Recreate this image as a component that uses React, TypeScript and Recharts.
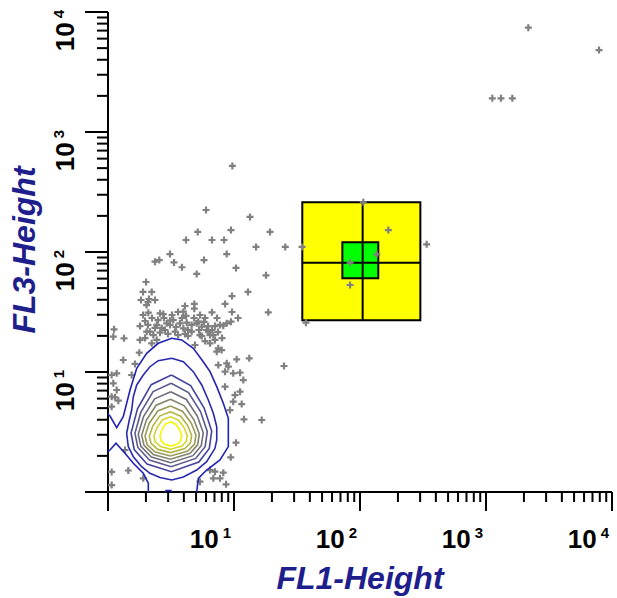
import { ScatterChart, Scatter, XAxis, YAxis, ReferenceArea, ReferenceLine } from 'recharts'

// all values are in decades (log10 of the channel value), axes run 10^0 .. 10^4
type Pt = [number, number]

const FONT = '"Liberation Sans", Arial, sans-serif'
const AXIS_BLUE = '#1e1e8c'

// FL1-Height / FL3-Height events
const events: Pt[] = [
  [0.987, 2.717], [0.778, 2.35], [1.127, 2.292], [0.712, 2.167], [0.976, 2.183], [1.286, 2.167],
  [0.619, 2.1], [0.825, 2.1], [0.921, 2.1], [1.175, 2.042], [1.407, 2.042], [1.54, 2.042],
  [0.492, 1.983], [0.942, 1.983], [0.373, 1.919], [0.407, 1.933], [0.524, 1.913], [0.762, 1.933],
  [0.587, 1.873], [1.016, 1.867], [0.704, 1.817], [1.254, 1.806], [0.302, 1.75], [0.347, 1.667],
  [1.111, 1.667], [0.984, 1.633], [0.317, 1.583], [0.306, 1.558], [0.325, 1.608], [0.685, 1.567],
  [0.611, 1.55], [0.929, 1.567], [0.32, 1.494], [0.413, 1.489], [0.439, 1.483], [0.598, 1.503],
  [0.685, 1.528], [0.825, 1.497], [1.272, 1.497], [0.492, 1.428], [0.976, 1.419], [0.915, 1.386],
  [0.048, 1.356], [0.127, 1.281], [1.571, 1.411], [0.333, 1.336], [0.36, 1.308], [0.452, 1.35],
  [0.571, 1.406], [0.625, 1.411], [0.717, 1.419], [0.744, 1.378], [0.783, 1.35], [0.81, 1.308],
  [0.598, 1.364], [0.413, 1.328], [0.744, 1.3], [0.387, 1.392], [0.426, 1.367], [0.518, 1.433],
  [0.664, 1.392], [0.704, 1.406], [0.796, 1.336], [0.836, 1.308], [0.889, 1.392], [0.942, 1.406],
  [0.307, 1.336], [0.387, 1.267], [0.347, 1.239], [0.532, 1.336], [0.664, 1.336], [0.73, 1.308],
  [0.849, 1.267], [0.875, 1.197], [0.81, 1.239], [0.902, 1.183], [0.863, 1.169], [1.021, 1.106],
  [1.121, 1.114], [0.942, 1.072], [0.875, 1.058], [0.955, 1.044], [0.929, 1.003], [0.994, 0.989],
  [1.048, 0.994], [1.074, 0.933], [1.397, 1.05], [0.929, 0.878], [1.008, 0.808], [0.994, 0.753],
  [1.061, 0.733], [0.968, 0.683], [1.079, 0.606], [1.22, 0.6], [1.016, 0.411], [0.974, 0.289],
  [0.81, 0.183], [0.849, 0.169], [0.915, 0.161], [0.836, 0.114], [0.889, 0.114], [0.937, 0.064],
  [0.73, 0.086], [0.121, 1.1], [0.214, 1.067], [0.248, 1.161], [0.188, 0.975], [0.042, 1.294],
  [0.029, 0.975], [0.069, 0.989], [0.042, 0.906], [0.069, 0.85], [0.029, 0.794], [0.056, 0.789],
  [0.082, 0.761], [0.029, 0.711], [0.029, 0.167], [0.161, 0.179], [0.28, 0.114], [0.029, 0.058],
  [0.135, 0.35], [1.048, 0.836], [3.336, 3.869], [3.897, 3.683], [3.05, 3.281], [3.119, 3.281],
  [3.209, 3.281], [2.026, 2.414], [2.225, 2.183], [2.529, 2.064], [2.133, 1.981], [1.921, 1.911],
  [1.921, 1.725], [0.466, 1.406], [0.556, 1.308], [0.635, 1.3], [0.294, 1.425], [0.254, 1.383],
  [0.349, 1.45], [0.397, 1.433], [0.444, 1.45], [0.492, 1.392], [0.54, 1.375], [0.587, 1.45],
  [0.635, 1.35], [0.683, 1.45], [0.722, 1.35], [0.762, 1.417], [0.794, 1.383], [0.825, 1.35],
  [0.317, 1.392], [0.373, 1.367], [0.278, 1.475], [0.508, 1.475], [0.556, 1.5], [0.73, 1.475],
  [0.77, 1.45], [0.849, 1.383], [0.873, 1.333], [0.905, 1.283], [0.619, 1.467], [0.69, 1.225],
  [0.77, 1.258], [0.294, 1.283], [0.254, 1.267], [0.984, 1.5], [1.032, 1.45], [0.865, 1.45],
  [0.476, 1.317], [0.611, 1.317], [0.278, 1.667], [0.262, 1.6], [0.373, 1.6],
]

// density contours, outermost first (the outer one runs off both axes)
const contour1: Pt[] = [
  [-0.079, 0.733], [0.016, 0.633], [0.069, 0.536], [0.121, 0.628], [0.175, 0.85], [0.228, 1.031],
  [0.307, 1.156], [0.399, 1.239], [0.506, 1.281], [0.585, 1.267], [0.677, 1.198], [0.756, 1.086],
  [0.81, 1.003], [0.863, 0.878], [0.915, 0.739], [0.955, 0.614], [0.955, 0.378], [0.889, 0.267],
  [0.783, 0.183], [0.717, 0.114], [0.704, 0], [0.704, -0.067], [0.32, -0.067], [0.32, 0.073],
  [0.28, 0.156], [0.201, 0.239], [0.135, 0.323], [0.063, 0.406], [0.016, 0.35], [-0.079, 0.267],
]
const contour2: Pt[] = [
  [0.506, 1.114], [0.598, 1.086], [0.677, 1.003], [0.744, 0.892], [0.796, 0.767], [0.836, 0.656],
  [0.863, 0.544], [0.863, 0.433], [0.849, 0.364], [0.783, 0.253], [0.704, 0.183], [0.598, 0.125],
  [0.506, 0.1], [0.413, 0.121], [0.333, 0.156], [0.267, 0.211], [0.201, 0.294], [0.161, 0.378],
  [0.148, 0.489], [0.169, 0.6], [0.188, 0.683], [0.201, 0.794], [0.228, 0.892], [0.28, 0.975],
  [0.333, 1.044], [0.399, 1.094], [0.506, 1.114],
]
const contour3: Pt[] = [
  [0.503, 0.975], [0.656, 0.887], [0.763, 0.699], [0.823, 0.508], [0.804, 0.363], [0.721, 0.25],
  [0.503, 0.169], [0.31, 0.233], [0.208, 0.354], [0.183, 0.492], [0.234, 0.693], [0.343, 0.894], [0.503, 0.975],
]
const contour4: Pt[] = [
  [0.501, 0.906], [0.639, 0.829], [0.735, 0.668], [0.788, 0.503], [0.771, 0.378], [0.696, 0.28],
  [0.501, 0.211], [0.329, 0.267], [0.237, 0.371], [0.214, 0.489], [0.26, 0.663], [0.358, 0.837], [0.501, 0.906],
]
const contour5: Pt[] = [
  [0.498, 0.836], [0.622, 0.771], [0.709, 0.633], [0.756, 0.493], [0.74, 0.386], [0.674, 0.303],
  [0.498, 0.244], [0.344, 0.292], [0.261, 0.38], [0.24, 0.481], [0.282, 0.628], [0.37, 0.777], [0.498, 0.836],
]
const contour6: Pt[] = [
  [0.496, 0.773], [0.606, 0.718], [0.682, 0.602], [0.725, 0.483], [0.711, 0.393], [0.652, 0.323],
  [0.496, 0.273], [0.359, 0.313], [0.286, 0.388], [0.267, 0.473], [0.304, 0.598], [0.382, 0.723], [0.496, 0.773],
]
const contour7: Pt[] = [
  [0.496, 0.717], [0.593, 0.671], [0.661, 0.574], [0.698, 0.475], [0.687, 0.4], [0.633, 0.342],
  [0.496, 0.3], [0.375, 0.333], [0.31, 0.396], [0.294, 0.467], [0.326, 0.571], [0.395, 0.675], [0.496, 0.717],
]
const contour8: Pt[] = [
  [0.496, 0.669], [0.577, 0.632], [0.633, 0.553], [0.664, 0.471], [0.654, 0.409], [0.61, 0.362],
  [0.496, 0.328], [0.395, 0.355], [0.341, 0.406], [0.328, 0.464], [0.355, 0.549], [0.412, 0.635], [0.496, 0.669],
]
const contour9: Pt[] = [
  [0.497, 0.628], [0.56, 0.598], [0.605, 0.535], [0.629, 0.47], [0.621, 0.421], [0.587, 0.383],
  [0.497, 0.356], [0.418, 0.378], [0.375, 0.418], [0.365, 0.464], [0.387, 0.533], [0.431, 0.6], [0.497, 0.628],
]
const contour10: Pt[] = [
  [0.499, 0.586], [0.54, 0.563], [0.569, 0.517], [0.585, 0.468], [0.579, 0.432], [0.557, 0.403],
  [0.499, 0.383], [0.447, 0.399], [0.42, 0.43], [0.413, 0.464], [0.426, 0.515], [0.456, 0.566], [0.499, 0.586],
]
// small piece of the outer level touching the FL1 axis
const contourFoot: Pt[] = [[0.45, -0.05], [0.46, 0.012], [0.5, 0.012], [0.51, -0.05]]

const contours = [contour1, contour2, contour3, contour4, contour5, contour6, contour7, contour8, contour9, contour10]
const contourColors = ['#2222b4', '#2a2aae', '#44449e', '#5a5a8e', '#6e6e7e', '#84846c', '#9a9a58', '#b4b442', '#d4d42a', '#f6f600']

// region gate R1 (yellow) with its inner gate R2 (green)
const gateOuterX: Pt = [1.542, 2.479]
const gateOuterY: Pt = [1.431, 2.414]
const gateInnerX: Pt = [1.86, 2.145]
const gateInnerY: Pt = [1.781, 2.081]
const gateCross: Pt = [2.021, 1.911]

// log ticks: decades plus 2..9 inside each decade
const minorSteps = [2, 3, 4, 5, 6, 7, 8, 9]
const decadeTicks: number[] = []
for (let d = 0; d < 4; d++) {
  decadeTicks.push(d)
  minorSteps.forEach((m) => decadeTicks.push(d + Math.log10(m)))
}
decadeTicks.push(4)

const toRows = (pts: Pt[]) => pts.map(([x, y]) => ({ x, y }))

function isMajor(v: number) {
  return Math.abs(v - Math.round(v)) < 1e-6
}

function XTick(p: any) {
  const { x, y, payload } = p
  const v = payload.value as number
  const major = isMajor(v)
  const e = Math.round(v)
  return (
    <g>
      <line x1={x} x2={x} y1={y} y2={y + (major ? 19 : 10)} stroke="#000" strokeWidth={2} />
      {major && e > 0 && (
        <text x={x - 3} y={y + 56} textAnchor="end" fontFamily={FONT} fontSize={26} fontWeight="bold" fill="#000">
          10
          <tspan dx={4} dy={-10} fontSize={15}>
            {e}
          </tspan>
        </text>
      )}
    </g>
  )
}

function YTick(p: any) {
  const { x, y, payload } = p
  const v = payload.value as number
  const major = isMajor(v)
  const e = Math.round(v)
  const bx = x - 34
  const by = y - 2
  return (
    <g>
      <line x1={x} x2={x - (major ? 23 : 11)} y1={y} y2={y} stroke="#000" strokeWidth={2} />
      {major && e > 0 && (
        <text x={bx} y={by} transform={`rotate(-90 ${bx} ${by})`} textAnchor="end" fontFamily={FONT} fontSize={26} fontWeight="bold" fill="#000">
          10
          <tspan dx={4} dy={-10} fontSize={15}>
            {e}
          </tspan>
        </text>
      )}
    </g>
  )
}

function Plus(p: any) {
  const { cx, cy } = p
  if (cx == null || cy == null) return <g />
  return <path d={`M${cx - 3.5},${cy}h7M${cx},${cy - 3.5}v7`} stroke="#808080" strokeWidth={2.2} fill="none" />
}

const noDot = () => <g />

export default function App() {
  return (
    <div style={{ position: 'absolute', left: 0, top: 0, background: '#fff' }}>
      <ScatterChart width={617} height={598} margin={{ top: 12, right: 5, bottom: 46, left: 48 }}>
        <XAxis
          type="number"
          dataKey="x"
          domain={[0, 4]}
          ticks={decadeTicks}
          interval={0}
          allowDataOverflow
          height={60}
          tickSize={0}
          tickMargin={0}
          tickLine={false}
          axisLine={{ stroke: '#000', strokeWidth: 2 }}
          tick={(p: any) => <XTick {...p} />}
          label={{
            content: (lp: any) => {
              const vb = lp.viewBox || { x: 108, y: 492, width: 504 }
              return (
                <text x={vb.x + vb.width / 2} y={vb.y + 97} textAnchor="middle" fontFamily={FONT} fontSize={32} fontWeight="bold" fontStyle="italic" fill={AXIS_BLUE}>
                  FL1-Height
                </text>
              )
            },
          }}
        />
        <YAxis
          type="number"
          dataKey="y"
          domain={[0, 4]}
          ticks={decadeTicks}
          interval={0}
          allowDataOverflow
          width={60}
          tickSize={0}
          tickMargin={0}
          tickLine={false}
          axisLine={{ stroke: '#000', strokeWidth: 2 }}
          tick={(p: any) => <YTick {...p} />}
          label={{
            content: (lp: any) => {
              const vb = lp.viewBox || { x: 48, y: 12, height: 480 }
              const cx = vb.x - 13
              const cy = vb.y + vb.height / 2 - 2
              return (
                <text x={cx} y={cy} transform={`rotate(-90 ${cx} ${cy})`} textAnchor="middle" fontFamily={FONT} fontSize={32} fontWeight="bold" fontStyle="italic" fill={AXIS_BLUE}>
                  FL3-Height
                </text>
              )
            },
          }}
        />
        <ReferenceArea x1={gateOuterX[0]} x2={gateOuterX[1]} y1={gateOuterY[0]} y2={gateOuterY[1]} fill="#ffff00" fillOpacity={1} stroke="#000" strokeWidth={2} />
        <ReferenceArea x1={gateInnerX[0]} x2={gateInnerX[1]} y1={gateInnerY[0]} y2={gateInnerY[1]} fill="#00ff00" fillOpacity={1} stroke="#000" strokeWidth={2} />
        <ReferenceLine segment={[{ x: gateCross[0], y: gateOuterY[0] }, { x: gateCross[0], y: gateOuterY[1] }]} stroke="#000" strokeWidth={2} />
        <ReferenceLine segment={[{ x: gateOuterX[0], y: gateCross[1] }, { x: gateOuterX[1], y: gateCross[1] }]} stroke="#000" strokeWidth={2} />
        <Scatter data={toRows(events)} shape={Plus} isAnimationActive={false} />
        {contours.map((c, i) => (
          <Scatter
            key={i}
            data={toRows(c)}
            line={{ stroke: contourColors[i], strokeWidth: 1.6 }}
            lineType="joint"
            shape={noDot}
            isAnimationActive={false}
          />
        ))}
        <Scatter data={toRows(contourFoot)} line={{ stroke: contourColors[0], strokeWidth: 1.6 }} lineType="joint" shape={noDot} isAnimationActive={false} />
      </ScatterChart>
    </div>
  )
}
